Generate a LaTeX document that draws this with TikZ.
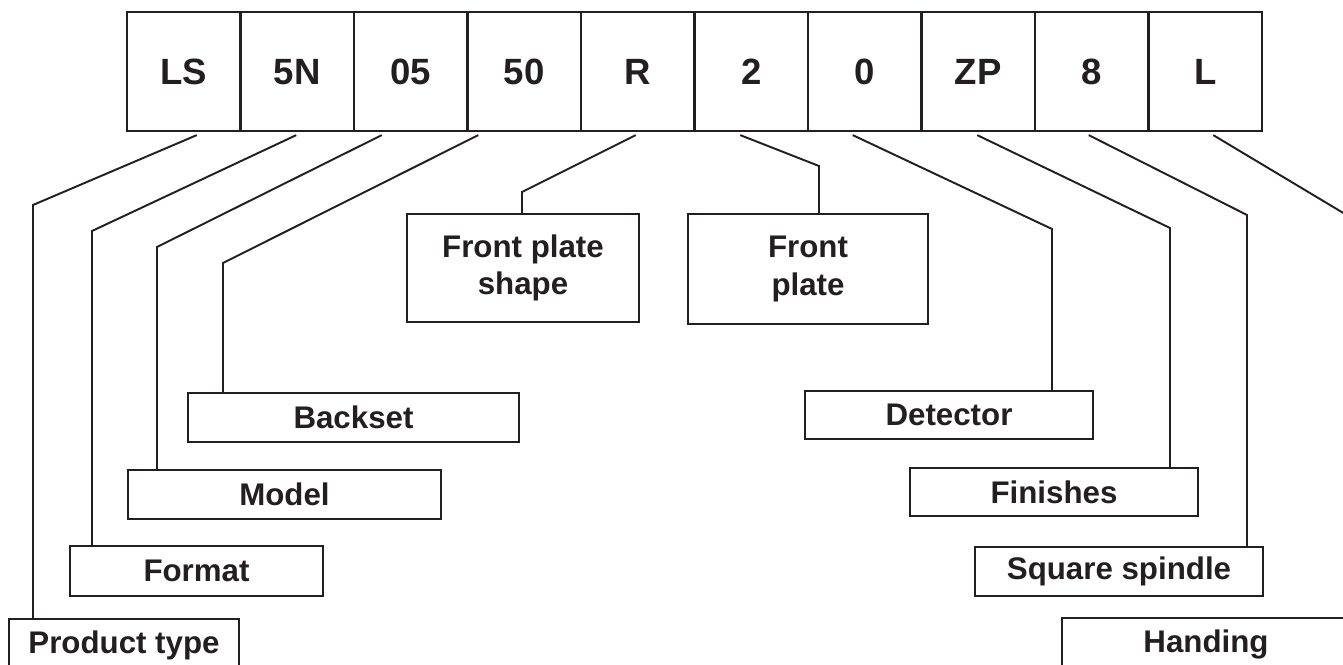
\documentclass[tikz,border=0pt]{standalone}
\usepackage{fontspec}
\setmainfont{Liberation Sans}
\usetikzlibrary{calc}
\definecolor{ink}{RGB}{35,31,32}

\begin{document}
\begin{tikzpicture}[x=0.02cm,y=-0.02cm,
  cell/.style={draw=ink,line width=1.3pt,minimum width=2.27cm,minimum height=2.38cm,inner sep=0pt,
    text height=14.9pt,text depth=0pt,font=\fontsize{20.8}{24}\selectfont\bfseries,text=ink},
  tag/.style 2 args={draw=ink,line width=1.3pt,minimum width=#1*0.02cm,minimum height=#2*0.02cm,
    inner sep=0pt,align=center,font=\fontsize{17.8}{21.5}\selectfont\bfseries,text=ink},
  lead/.style={ink,line width=1.1pt}]
  \useasboundingbox (0,0) rectangle (1343,665);
  \clip (0,0) rectangle (1343,665);
  % code row
  \foreach \t [count=\i] in {LS,5N,05,50,R,2,0,ZP,8,L}
    \node[cell] (c\i) at ({127+113.5*(\i-0.5)},71.5) {\t};
  % labels
  \node[tag={230}{52}] (ptype) at (124,645) {Product type};
  \node[tag={253}{50}] (format) at (196.5,571) {Format};
  \node[tag={313}{49}] (model) at (284.5,494.5) {Model};
  \node[tag={331}{49}] (backset) at (353.5,417.5) {Backset};
  \node[tag={232}{108}] (fpshape) at (523,268) {Front plate\\shape};
  \node[tag={240}{110}] (fplate) at (808,269) {Front\\plate};
  \node[tag={288}{48}] (detector) at (949,415) {Detector};
  \node[tag={288}{48}] (finishes) at (1054,492) {Finishes};
  \node[tag={288}{49}] (spindle) at (1119,571.5) {Square spindle};
  \node[tag={288}{52}] (handing) at (1206,644) {Handing};
  % leaders
  \foreach \c/\dx/\bx/\by/\l in {1/13/33/205/ptype, 2/-1/92/231/format, 3/-29/157/247/model,
      4/-46/223/263/backset, 5/-2/522/192/fpshape, 6/-11/819/166/fplate, 7/-12/1052/229/detector,
      8/-1/1170/228/finishes, 9/-3/1247/215/spindle, 10/8/1350/217/handing} {
    \coordinate (k\c) at (\bx,\by);
    \draw[lead] ($(c\c.south)+(\dx,3)$) -- (k\c) -- (k\c |- \l.north);
  }
\end{tikzpicture}
\end{document}
